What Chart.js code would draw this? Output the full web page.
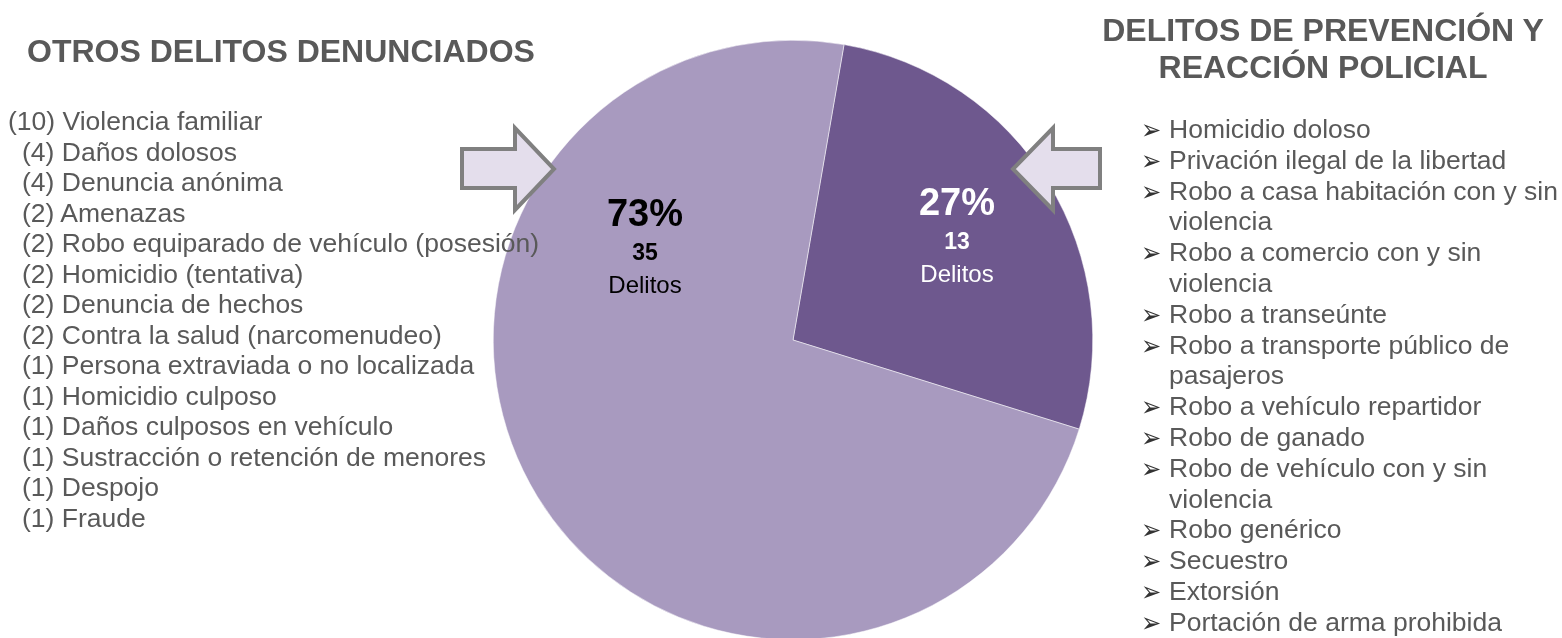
<!DOCTYPE html>
<html>
<head>
<meta charset="utf-8">
<script src="https://cdn.jsdelivr.net/npm/chart.js@4"></script>
<style>
  html, body { margin: 0; padding: 0; background: #fff; }
  body { width: 1562px; height: 638px; overflow: hidden; position: relative; font-family: "Liberation Sans", Arial, sans-serif; }
  #chart { position: absolute; left: 0; top: 0; }
  .heading { position: absolute; color: #595959; font-weight: bold; font-size: 32px; line-height: 37px; white-space: nowrap; }
  #leftTitle { left: 27px; top: 33px; }
  #rightTitle { left: 1083px; width: 480px; top: 12px; text-align: center; }
  ul { list-style: none; margin: 0; padding: 0; position: absolute; color: #595959; font-size: 26.5px; white-space: nowrap; }
  #leftList { left: 22px; top: 106px; line-height: 30.5px; }
  #leftList li.wide { margin-left: -14px; }
  #rightList { left: 1169px; top: 114px; line-height: 30.8px; }
  #rightList li { position: relative; }
  #rightList li::before { content: "\27A2"; position: absolute; left: -28px; top: 1px; font-size: 22px; font-family: "DejaVu Sans", sans-serif; color: #333; transform: scale(1.1, 1.25); transform-origin: left center; }
  .pieLabel { position: absolute; text-align: center; width: 160px; font-family: "Liberation Sans", Arial, sans-serif; }
  .pieLabel .pct { font-size: 38px; font-weight: bold; line-height: 40px; display: block; }
  .pieLabel .num { font-size: 23px; font-weight: bold; line-height: 38px; display: block; }
  .pieLabel .txt { font-size: 24px; line-height: 28px; display: block; }
</style>
</head>
<body>
<canvas id="chart" width="1562" height="680"></canvas>

<div id="leftTitle" class="heading">OTROS DELITOS DENUNCIADOS</div>
<div id="rightTitle" class="heading">DELITOS DE PREVENCIÓN Y<br>REACCIÓN POLICIAL</div>
<ul id="leftList"></ul>
<ul id="rightList"></ul>

<div id="lblOtros" class="pieLabel" style="left:565px; top:193px; color:#000;"></div>
<div id="lblPrev" class="pieLabel" style="left:877px; top:182px; color:#fff;"></div>

<script>
// pie data
const categories = ['Delitos de prevención y reacción policial', 'Otros delitos denunciados'];
const counts = [13, 35];
const sliceColors = ['#6e588e', '#a89abf'];

// left list: [count, name]
const otrosCounts = [10, 4, 4, 2, 2, 2, 2, 2, 1, 1, 1, 1, 1, 1];
const otrosNames = [
    'Violencia familiar', 'Daños dolosos', 'Denuncia anónima', 'Amenazas',
    'Robo equiparado de vehículo (posesión)', 'Homicidio (tentativa)', 'Denuncia de hechos',
    'Contra la salud (narcomenudeo)', 'Persona extraviada o no localizada', 'Homicidio culposo',
    'Daños culposos en vehículo', 'Sustracción o retención de menores', 'Despojo', 'Fraude'
];

// right list, explicit line breaks as in the original
const prevencionItems = [
    ['Homicidio doloso'],
    ['Privación ilegal de la libertad'],
    ['Robo a casa habitación con y sin', 'violencia'],
    ['Robo a comercio con y sin', 'violencia'],
    ['Robo a transeúnte'],
    ['Robo a transporte público de', 'pasajeros'],
    ['Robo a vehículo repartidor'],
    ['Robo de ganado'],
    ['Robo de vehículo con y sin', 'violencia'],
    ['Robo genérico'],
    ['Secuestro'],
    ['Extorsión'],
    ['Portación de arma prohibida']
];

const leftList = document.getElementById('leftList');
otrosNames.forEach((name, i) => {
    const li = document.createElement('li');
    li.textContent = `(${otrosCounts[i]}) ${name}`;
    if (otrosCounts[i] >= 10) li.className = 'wide';
    leftList.appendChild(li);
});

const rightList = document.getElementById('rightList');
prevencionItems.forEach(lines => {
    const li = document.createElement('li');
    lines.forEach((line, j) => {
        if (j > 0) li.appendChild(document.createElement('br'));
        li.appendChild(document.createTextNode(line));
    });
    rightList.appendChild(li);
});

// labels inside the pie
const total = counts.reduce((a, b) => a + b, 0);
function fillLabel(id, idx) {
    const el = document.getElementById(id);
    el.innerHTML = `<span class="pct">${Math.round(counts[idx] / total * 100)}%</span>` +
        `<span class="num">${counts[idx]}</span><span class="txt">Delitos</span>`;
}
fillLabel('lblPrev', 0);
fillLabel('lblOtros', 1);

// block arrows pointing at the pie
const arrowPlugin = {
    id: 'arrows',
    afterDatasetsDraw(chart) {
        const ctx = chart.ctx;
        const shapes = [
            [[462, 149], [515, 149], [515, 128], [554, 169], [515, 210], [515, 188], [462, 188]],
            [[1100, 149], [1053, 149], [1053, 128], [1013, 169], [1053, 210], [1053, 188], [1100, 188]]
        ];
        ctx.save();
        ctx.fillStyle = '#e4deec';
        ctx.strokeStyle = '#808080';
        ctx.lineWidth = 4;
        ctx.lineJoin = 'miter';
        shapes.forEach(pts => {
            ctx.beginPath();
            pts.forEach((p, i) => i ? ctx.lineTo(p[0], p[1]) : ctx.moveTo(p[0], p[1]));
            ctx.closePath();
            ctx.fill();
            ctx.stroke();
        });
        ctx.restore();
    }
};

new Chart(document.getElementById('chart'), {
    type: 'pie',
    data: {
        labels: categories,
        datasets: [{
            data: counts,
            backgroundColor: sliceColors,
            borderColor: '#ffffff',
            borderWidth: 0.5
        }]
    },
    options: {
        responsive: false,
        animation: false,
        rotation: 9.8,
        layout: { padding: { left: 493, right: 469, top: 40, bottom: 40 } },
        plugins: {
            legend: { display: false },
            tooltip: { enabled: false }
        }
    },
    plugins: [arrowPlugin]
});
</script>
</body>
</html>
